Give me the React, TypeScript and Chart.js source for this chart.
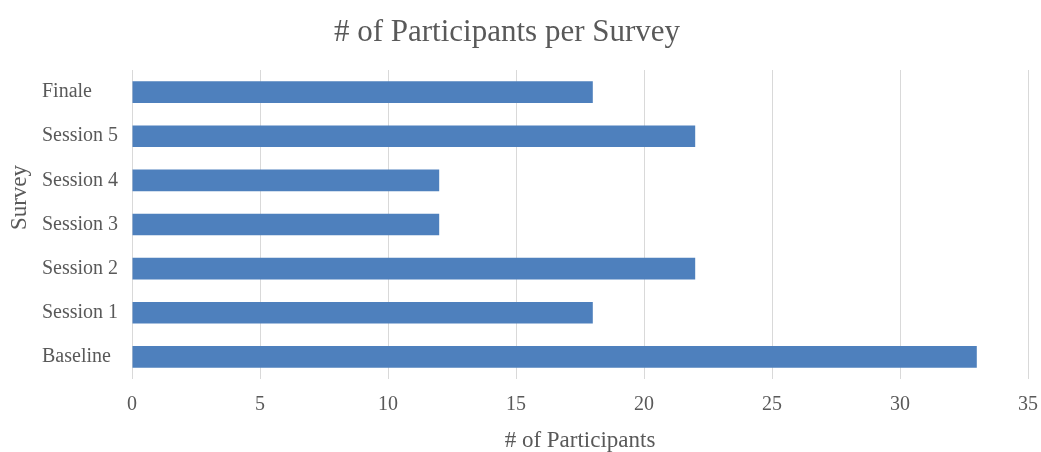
import React, { useEffect, useRef } from "react";
import { Chart, registerables } from "chart.js";

Chart.register(...registerables);

const categories = ["Finale", "Session 5", "Session 4", "Session 3", "Session 2", "Session 1", "Baseline"];
const participants = [18, 22, 12, 12, 22, 18, 33];
const xTicks = [0, 5, 10, 15, 20, 25, 30, 35];
const chartTitle = "# of Participants per Survey";
const xTitle = "# of Participants";
const yTitle = "Survey";

const FONT = "'Liberation Serif', 'Times New Roman', serif";
const TEXT = "#595959";
const OFF = 14;
const W = 1041 + OFF;

const shiftYTitle = {
  id: "shiftYTitle",
  afterLayout(chart: any) {
    const s = chart.scales.yTitleAxis;
    if (s) {
      s.bottom -= 54;
      s.height = s.bottom - s.top;
    }
  },
};

export default function App() {
  const ref = useRef<HTMLCanvasElement | null>(null);
  useEffect(() => {
    if (!ref.current) return;
    const chart = new Chart(ref.current, {
      type: "bar",
      data: {
        labels: categories,
        datasets: [
          {
            data: participants,
            backgroundColor: "#4e80bd",
            borderWidth: 0,
            categoryPercentage: 1,
            barPercentage: 0.49,
          },
        ],
      },
      plugins: [shiftYTitle],
      options: {
        indexAxis: "y",
        animation: false,
        responsive: false,
        devicePixelRatio: 1,
        layout: { padding: { left: 0, right: 13, top: 0, bottom: 0 } },
        plugins: {
          legend: { display: false },
          tooltip: { enabled: false },
          title: {
            display: true,
            text: chartTitle,
            color: TEXT,
            font: { family: FONT, size: 31, weight: "normal" },
            padding: { top: 14, bottom: 18.8 },
          },
        },
        scales: {
          x: {
            min: 0,
            max: 35,
            afterBuildTicks: (scale: any) => {
              scale.ticks = xTicks.map((v) => ({ value: v }));
            },
            afterFit: (scale: any) => {
              scale.height = 73;
              scale.paddingLeft = 0;
              scale.paddingRight = 0;
            },
            grid: { color: "#d9d9d9", drawTicks: false, lineWidth: 1 },
            border: { display: false },
            ticks: {
              color: TEXT,
              padding: 14,
              font: { family: FONT, size: 20 },
            },
            title: {
              display: true,
              text: xTitle,
              color: TEXT,
              font: { family: FONT, size: 23, weight: "normal" },
              padding: { top: 0, bottom: -3 },
            },
          },
          y: {
            afterFit: (scale: any) => {
              scale.width = 90;
              scale.paddingTop = 0;
              scale.paddingBottom = 0;
            },
            grid: { display: false, drawTicks: false },
            border: { display: false },
            ticks: {
              color: TEXT,
              crossAlign: "far",
              padding: 10,
              font: { family: FONT, size: 20 },
            },
          },
          yTitleAxis: {
            type: "linear",
            position: "left",
            weight: 1,
            afterFit: (scale: any) => {
              scale.width = 42 + OFF;
              scale.paddingTop = 0;
              scale.paddingBottom = 0;
            },
            grid: { display: false, drawTicks: false },
            border: { display: false },
            ticks: { display: false },
            title: {
              display: true,
              text: yTitle,
              color: TEXT,
              font: { family: FONT, size: 23, weight: "normal" },
              padding: { top: 20, bottom: 0 },
            },
          },
        },
      },
    });
    return () => chart.destroy();
  }, []);
  return (
    <div style={{ position: "fixed", left: -OFF, top: 0, width: W, height: 452, background: "#fff" }}>
      <canvas ref={ref} width={W} height={452} style={{ display: "block" }} />
    </div>
  );
}
